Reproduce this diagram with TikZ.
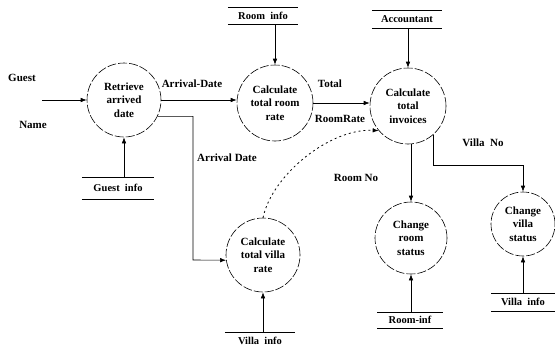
\documentclass[tikz,border=0pt]{standalone}
\usepackage{fontspec}
\setmainfont{Liberation Serif}
\usetikzlibrary{arrows.meta}
\begin{document}
\begin{tikzpicture}[x=1pt,y=-1pt,
  txt/.style={font=\fontsize{11}{13.5}\selectfont\bfseries, inner sep=0pt},
  proc/.style={circle, draw, line width=0.6pt, dash pattern=on 9pt off 2pt,
    inner sep=0pt, align=center, font=\fontsize{11}{13.5}\selectfont\bfseries},
  store/.style={inner sep=0pt, font=\fontsize{10.5}{12}\selectfont\bfseries},
  flow/.style={line width=0.6pt, -{Latex[length=6pt,width=4.5pt]}},
  dflow/.style={line width=0.8pt, dash pattern=on 2pt off 3pt, -{Latex[length=6pt,width=4.5pt]}}
]
\useasboundingbox (0,0) rectangle (555,349);

% processes
\node[proc, minimum size=74pt] (rt)  at (124,100) {Retrieve\\arrived\\date};
\node[proc, minimum size=76pt] (rr)  at (275,103) {Calculate\\total room\\rate};
\node[proc, minimum size=76pt] (inv) at (408,106) {Calculate\\total\\invoices};
\node[proc, minimum size=74pt] (vr)  at (263,255) {Calculate\\total villa\\rate};
\node[proc, minimum size=72pt] (crs) at (411,238) {Change\\room\\status};
\node[proc, minimum size=64pt] (cvs) at (523,224) {Change\\villa\\status};

% data stores
\node[store, minimum width=70pt, minimum height=17pt] (ri)  at (263,16)  {Room\enspace info};
\node[store, minimum width=70pt, minimum height=18pt] (ac)  at (407,19)  {Accountant};
\node[store, minimum width=72pt, minimum height=22pt] (gi)  at (118,188) {Guest\enspace info};
\node[store, minimum width=65pt, minimum height=16pt] (rf)  at (410,320) {Room-inf};
\node[store, minimum width=63pt, minimum height=18pt] (vi2) at (523,302) {Villa\enspace info};
\node[store, minimum width=70pt, minimum height=18pt] (vi1) at (260,341) {Villa\enspace info};
\foreach \s in {ri,ac,gi,rf,vi2}
  \draw[line width=0.6pt] (\s.north west) -- (\s.north east) (\s.south west) -- (\s.south east);
\draw[line width=0.6pt] (vi1.north west) -- (vi1.north east);

% labels
\node[txt] (lguest) at (22,78)  {Guest};
\node[txt] (lname)  at (33,125) {Name};
\node[txt] (lad1)   at (192,84) {Arrival-Date};
\node[txt, anchor=west] (lad2) at (197,158) {Arrival Date};
\node[txt] (ltot)   at (330,84)  {Total};
\node[txt] (lrr)    at (340,119) {RoomRate};
\node[txt] (lrn)    at (356,178) {Room No};
\node[txt] (lvn)    at (483,143) {Villa\enspace No};

% flows
\coordinate (gin) at (42,100);
\draw[flow] (gin) -- (rt.west);
\draw[flow] (rt.east) -- (rt.east -| rr.west);
\draw[flow] (rr.east) -- (rr.east -| inv.west);
\coordinate (ad) at (193,260);
\draw[flow] (rt.-26) -| (ad) -- (vr.188);
\draw[dflow] (vr.north) .. controls (272,175) and (330,128) .. (inv.220);
\draw[flow] (crs.north |- inv.south) -- (crs.north);
\coordinate (vnc) at (0,165);
\draw[flow] (inv.-49) |- (cvs.north |- vnc) -- (cvs.north);

% store accesses
\draw[flow] (ri.south -| rr.north) -- (rr.north);
\draw[flow] (ac.south -| inv.north) -- (inv.north);
\draw[flow] (gi.north -| rt.south) -- (rt.south);
\draw[flow] (rf.north -| crs.south) -- (crs.south);
\draw[flow] (vi2.north -| cvs.south) -- (cvs.south);
\draw[flow] (vi1.north -| vr.south) -- (vr.south);
\end{tikzpicture}
\end{document}
